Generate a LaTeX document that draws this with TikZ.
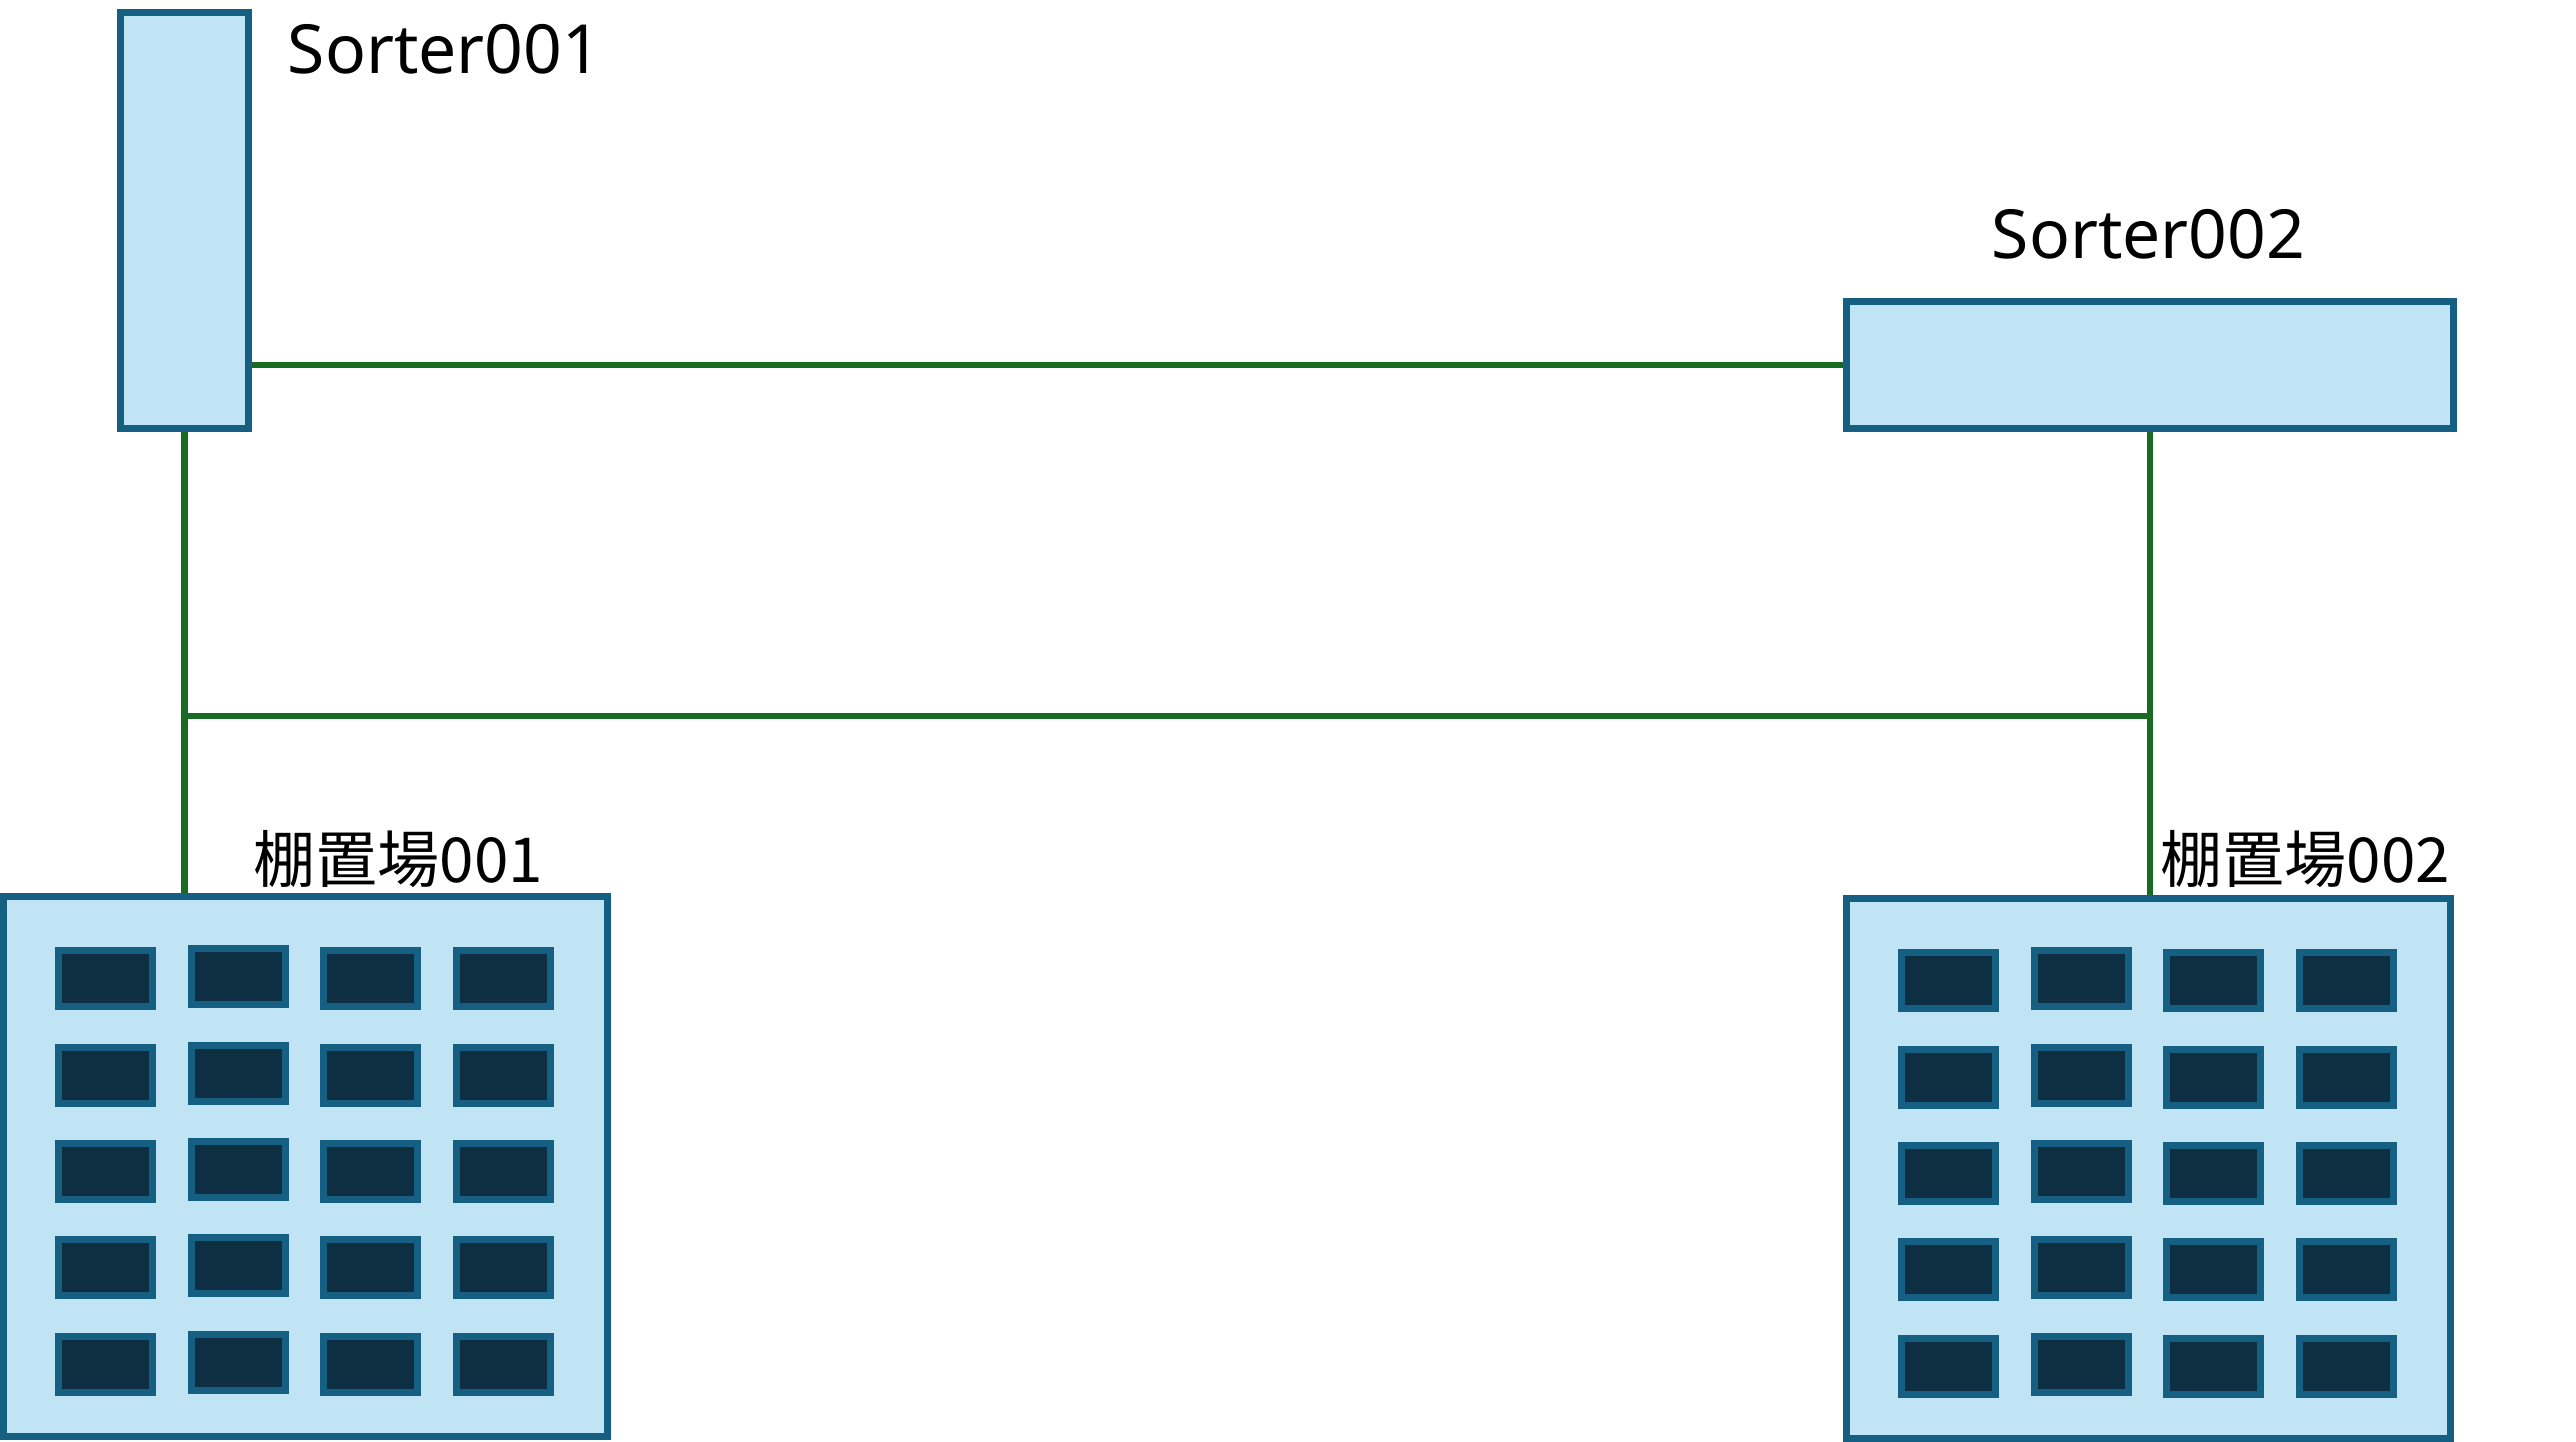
\documentclass[tikz,border=0pt]{standalone}
\usepackage{fontspec}
\setmainfont{Noto Sans}
\newfontfamily\jpfont{Noto Sans CJK JP}
\usetikzlibrary{backgrounds}

\definecolor{boxline}{HTML}{156082}
\definecolor{boxfill}{HTML}{C1E4F5}
\definecolor{cellfill}{HTML}{0E2E42}
\definecolor{linkgreen}{HTML}{196B24}

\tikzset{
  unit/.style={draw=boxline, fill=boxfill, line width=1.75pt,
    inner sep=0pt, outer sep=0pt},
  cell/.style={draw=boxline, fill=cellfill, line width=1.75pt,
    minimum width=23.5pt, minimum height=14pt, inner sep=0pt},
  link/.style={draw=linkgreen, line width=1.7pt},
  lbl/.style={inner sep=0pt, anchor=base west,
    font=\fontsize{16.95pt}{20pt}\selectfont},
  jlbl/.style={inner sep=0pt, anchor=base west,
    font=\fontsize{15.5pt}{18pt}\selectfont\jpfont},
}

\begin{document}
\begin{tikzpicture}[x=0.25pt, y=-0.25pt]
  \useasboundingbox (0,0) rectangle (2576,1442);

  % sorters
  \node[unit, minimum width=32pt, minimum height=104pt] (s1) at (184.5,220.5) {};
  \node[unit, minimum width=151.75pt, minimum height=31.75pt] (s2) at (2150,365) {};

  % shelf areas
  \node[unit, minimum width=151pt, minimum height=135pt] (r1) at (305,1166) {};
  \node[unit, minimum width=151pt, minimum height=135pt] (r2) at (2148,1168) {};

  \foreach \r in {r1,r2}
    \foreach \c/\dx/\up in {1/-199.5/0, 2/-67/2, 3/65/0, 4/198/0}
      \foreach \dy [count=\k] in {-187.5,-91,5,101.5,198}
        \node[cell] (\r c\c\k) at ([shift={(\dx,\dy-\up)}]\r.center) {};

  % labels
  \node[lbl] (t1) at (287,74) {Sorter001};
  \node[lbl] (t2) at (1991,259) {Sorter002};
  \node[jlbl] (t3) at (253,882) {棚置場001};
  \node[jlbl] (t4) at (2160,882) {棚置場002};

  % links
  \coordinate (j1) at (184.5,716);
  \coordinate (j2) at (2150,716);
  \begin{scope}[on background layer]
    \draw[link] (s1.east |- s2.west) -- (s2.west);
    \draw[link] (s1.south) -- (s1.south |- r1.north);
    \draw[link] (s2.south) -- (s2.south |- r2.north);
    \draw[link] (j1) -- (j2);
  \end{scope}

\end{tikzpicture}
\end{document}
